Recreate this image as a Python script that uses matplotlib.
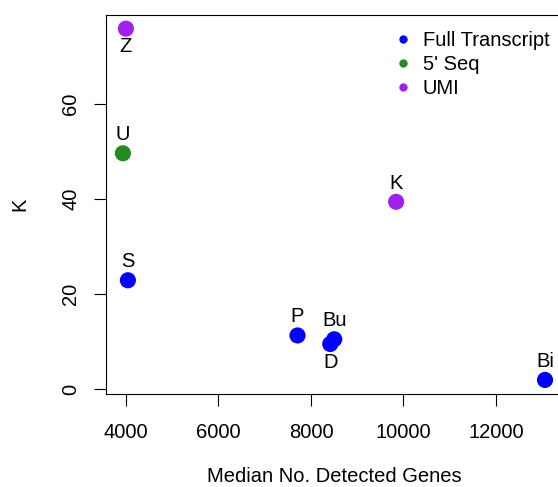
import matplotlib
matplotlib.use("Agg")
import matplotlib.pyplot as plt
from matplotlib.lines import Line2D

plt.rcParams['font.family'] = ['Liberation Sans', 'DejaVu Sans']

# protocols: label, median detected genes, K, type
names = ["Z", "U", "S", "P", "Bu", "D", "Bi", "K"]
genes = [4000, 3935, 4043, 7709, 8503, 8417, 13059, 9841]
kvals = [75.8, 49.6, 22.9, 11.3, 10.5, 9.5, 1.95, 39.4]
kinds = ["UMI", "5' Seq", "Full Transcript", "Full Transcript",
         "Full Transcript", "Full Transcript", "Full Transcript", "UMI"]
label_below = ["Z", "D"]

kind_names = ["Full Transcript", "5' Seq", "UMI"]
kind_colors = {"Full Transcript": "#0000FF", "5' Seq": "#228B22", "UMI": "#A020F0"}

fs = 14.5

fig = plt.figure(figsize=(5.58, 4.87), dpi=100)
ax = fig.add_axes([0.19, 0.191, 0.817, 0.779])

cols = [kind_colors[k] for k in kinds]
ax.scatter(genes, kvals, s=135, c=cols, edgecolors='none', zorder=3)

for n, x, y in zip(names, genes, kvals):
    dy = -13 if n in label_below else 13.5
    ax.annotate(n, (x, y), xytext=(0, dy), textcoords='offset points',
                ha='center', va='center', fontsize=fs)

# R-style ranges (4% padding)
xr = max(genes) - min(genes)
yr = max(kvals) - min(kvals)
ax.set_xlim(min(genes) - 0.04 * xr, max(genes) + 0.04 * xr)
ax.set_ylim(min(kvals) - 0.04 * yr, max(kvals) + 0.04 * yr)

ax.set_xticks([4000, 6000, 8000, 10000, 12000])
ax.set_yticks([0, 20, 40, 60])
ax.tick_params(direction='out', length=8.6, width=0.8, labelsize=fs)
ax.tick_params(axis='x', pad=12)
ax.tick_params(axis='y', pad=10)
for lab in ax.get_yticklabels():
    lab.set_rotation(90)
    lab.set_va('center')
for sp in ax.spines.values():
    sp.set_linewidth(0.8)

ax.set_xlabel("Median No. Detected Genes", fontsize=fs, labelpad=18)
ax.set_ylabel("K", fontsize=fs, labelpad=23)

handles = [Line2D([], [], marker='o', linestyle='none', markersize=6,
                  markerfacecolor=kind_colors[k], markeredgecolor='none', label=k)
           for k in kind_names]
ax.legend(handles=handles, loc='upper left', bbox_to_anchor=(0.611, 0.978),
          frameon=False, fontsize=fs, handletextpad=0.5, labelspacing=0.25,
          handlelength=1.0, borderaxespad=0)

fig.savefig("out.png", dpi=100)
